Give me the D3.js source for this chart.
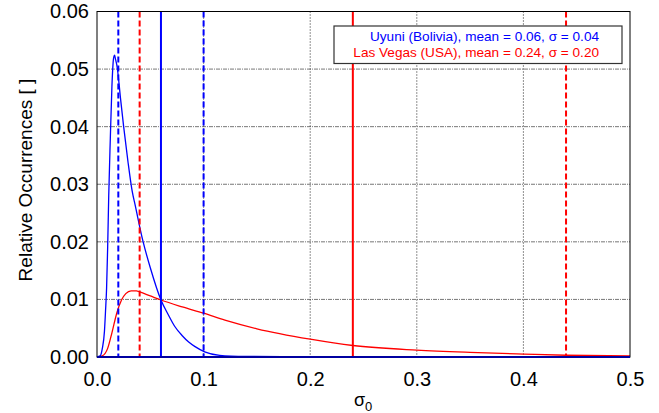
<!DOCTYPE html>
<html>
<head>
<meta charset="utf-8">
<script src="https://cdn.jsdelivr.net/npm/d3@7"></script>
<style>
  html, body { margin: 0; padding: 0; background: #fff; }
  svg { display: block; font-family: "Liberation Sans", Arial, sans-serif; }
</style>
</head>
<body>
<svg id="chart" width="659" height="413"></svg>
<script>
// Distribution of sigma0 at two calibration sites
const uyuniSigma = [0, 0.003, 0.005, 0.007, 0.008, 0.009, 0.010, 0.011, 0.0125, 0.014, 0.0155, 0.0165, 0.0175, 0.0185, 0.0195, 0.022, 0.025, 0.029, 0.033, 0.036, 0.043, 0.050, 0.060, 0.067, 0.073, 0.080, 0.086, 0.092, 0.101, 0.115, 0.14, 0.20, 0.30, 0.40, 0.50];
const uyuniFreq  = [0, 0.0002, 0.0015, 0.0045, 0.008, 0.012, 0.019, 0.028, 0.038, 0.047, 0.0518, 0.0524, 0.0516, 0.0508, 0.0495, 0.045, 0.040, 0.034, 0.0288, 0.0262, 0.0202, 0.0155, 0.0099, 0.0073, 0.0053, 0.0037, 0.0026, 0.0018, 0.0009, 0.0003, 0.0001, 0, 0, 0, 0];

const vegasSigma = [0, 0.005, 0.010, 0.014, 0.0185, 0.023, 0.027, 0.032, 0.037, 0.040, 0.050, 0.060, 0.080, 0.100, 0.120, 0.150, 0.200, 0.240, 0.300, 0.350, 0.400, 0.440, 0.500];
const vegasFreq  = [0, 0.0002, 0.0015, 0.0042, 0.0076, 0.0099, 0.0110, 0.0115, 0.0115, 0.0113, 0.0106, 0.0099, 0.0087, 0.0076, 0.0064, 0.0049, 0.0031, 0.0020, 0.0012, 0.0008, 0.0005, 0.0003, 0.0002];

// Mean and mean +/- one standard deviation markers
const uyuniStats = { mean: 0.06, lo: 0.02, hi: 0.10 };
const vegasStats = { mean: 0.24, lo: 0.04, hi: 0.44 };

const xTicks = [0, 0.1, 0.2, 0.3, 0.4, 0.5];
const yTicks = [0, 0.01, 0.02, 0.03, 0.04, 0.05, 0.06];
const legendLabels = ["Uyuni (Bolivia), mean = 0.06, \u03c3 = 0.04", "Las Vegas (USA), mean = 0.24, \u03c3 = 0.20"];

const BLUE = "#0000ff", RED = "#ff0000";
const m = { left: 97, right: 630, top: 11.5, bottom: 357 };

const svg = d3.select("#chart");
const x = d3.scaleLinear().domain([0, 0.5]).range([m.left, m.right]);
const y = d3.scaleLinear().domain([0, 0.06]).range([m.bottom, m.top]);

// grid
const grid = svg.append("g");
grid.selectAll("line.h").data(yTicks.slice(1, -1)).join("line")
  .attr("x1", m.left).attr("x2", m.right)
  .attr("y1", d => y(d)).attr("y2", d => y(d))
  .attr("stroke", "#777").attr("stroke-width", 1).attr("stroke-dasharray", "4,1,1,1");
grid.selectAll("line.v").data(xTicks.slice(1, -1)).join("line")
  .attr("y1", m.top).attr("y2", m.bottom)
  .attr("x1", d => x(d)).attr("x2", d => x(d))
  .attr("stroke", "#222").attr("stroke-width", 1).attr("stroke-dasharray", "1,2");

// curves
const line = d3.line().x(d => x(d[0])).y(d => y(d[1])).curve(d3.curveMonotoneX);
svg.append("path").datum(d3.zip(vegasSigma, vegasFreq))
  .attr("d", line).attr("fill", "none").attr("stroke", RED).attr("stroke-width", 1.3);
svg.append("path").datum(d3.zip(uyuniSigma, uyuniFreq))
  .attr("d", line).attr("fill", "none").attr("stroke", BLUE).attr("stroke-width", 1.3);

// vertical statistic markers
function markers(s, color) {
  [["lo", true], ["hi", true], ["mean", false]].forEach(([k, dashed]) => {
    svg.append("line")
      .attr("x1", x(s[k])).attr("x2", x(s[k]))
      .attr("y1", m.top).attr("y2", m.bottom)
      .attr("stroke", color).attr("stroke-width", 2)
      .attr("stroke-dasharray", dashed ? "6,3" : null);
  });
}
markers(vegasStats, RED);
markers(uyuniStats, BLUE);

// frame
svg.append("rect").attr("x", m.left).attr("y", m.top)
  .attr("width", m.right - m.left).attr("height", m.bottom - m.top)
  .attr("fill", "none").attr("stroke", "#000").attr("stroke-width", 1);
svg.append("line").attr("x1", m.left).attr("x2", m.right)
  .attr("y1", m.bottom).attr("y2", m.bottom)
  .attr("stroke", "#0000a0").attr("stroke-width", 2);

// axes
const xAxis = svg.append("g").attr("transform", `translate(0,${m.bottom})`)
  .call(d3.axisBottom(x).tickValues(xTicks).tickFormat(d3.format(".1f")).tickSize(0).tickPadding(15));
const yAxis = svg.append("g").attr("transform", `translate(${m.left},0)`)
  .call(d3.axisLeft(y).tickValues(yTicks).tickFormat(d3.format(".2f")).tickSize(0).tickPadding(8));
[xAxis, yAxis].forEach(a => {
  a.select(".domain").remove();
  a.selectAll("text").attr("fill", "#000").style("font-size", "20px")
    .style("font-family", "'Liberation Sans', Arial, sans-serif");
});

// axis titles
svg.append("text").attr("transform", "translate(32,180) rotate(-90)")
  .attr("text-anchor", "middle").style("font-size", "19px").text("Relative Occurrences [ ]");
const xt = svg.append("text").attr("x", 354).attr("y", 406).style("font-size", "18px");
xt.append("tspan").text("\u03c3");
xt.append("tspan").attr("dy", 5).style("font-size", "13px").text("0");

// legend
const lg = svg.append("g");
lg.append("rect").attr("x", 334).attr("y", 26).attr("width", 288).attr("height", 37.5)
  .attr("fill", "#fff").attr("stroke", "#333").attr("stroke-width", 1.2);
lg.selectAll("text").data(legendLabels).join("text")
  .attr("x", 599).attr("y", (d, i) => 40.5 + i * 16)
  .attr("text-anchor", "end").style("font-size", "13.6px")
  .attr("fill", (d, i) => i === 0 ? BLUE : RED).text(d => d);
</script>
</body>
</html>
